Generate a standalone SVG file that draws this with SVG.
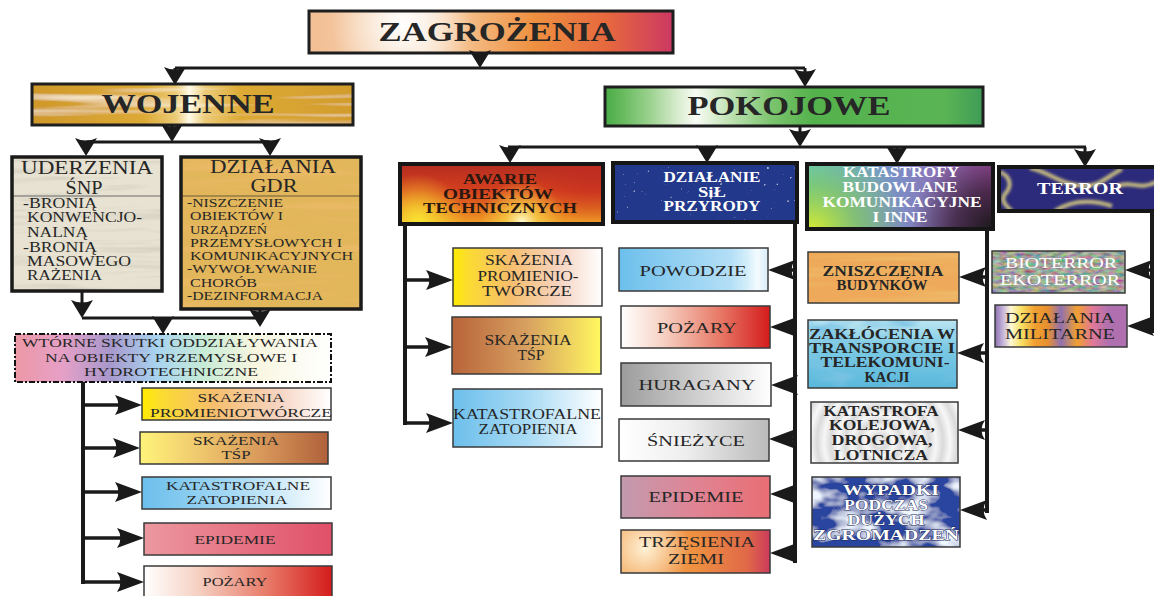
<svg xmlns="http://www.w3.org/2000/svg" width="1154" height="596" viewBox="0 0 1154 596">
<defs>
<style>
.t{font-family:"Liberation Serif","Times New Roman",serif;fill:#262626;text-anchor:middle}
.b{font-weight:bold}
.w{fill:#ffffff}
.ws{fill:#ffffff;stroke:#1c2a5a;stroke-width:0.8;paint-order:stroke}
.lst{font-family:"Liberation Serif","Times New Roman",serif;fill:#262626}
.s13{font-size:13px}.s14{font-size:14px}.s15{font-size:15px}.s17{font-size:17px}.s18{font-size:18px}.s27{font-size:27px}
.bd{fill:none;stroke:#3a3a3a;stroke-width:1.5}
.bk{fill:none;stroke:#161616;stroke-width:4}
.bm{fill:none;stroke:#1e1e1e;stroke-width:3}
.c{fill:none;stroke:#1a1a1a;stroke-width:3}
.cv{fill:none;stroke:#1a1a1a;stroke-width:4}
.cb{fill:none;stroke:#1a1a1a;stroke-width:3.5}
</style>
<marker id="av" markerUnits="userSpaceOnUse" markerWidth="18" markerHeight="22" refX="12" refY="11" orient="auto"><path d="M0,0 L18,11 L0,22 Q5,11 0,0 Z" fill="#1a1a1a"/></marker>
<marker id="ah" markerUnits="userSpaceOnUse" markerWidth="27" markerHeight="20" refX="21" refY="10" orient="auto"><path d="M0,0 L27,10 L0,20 Q7,10 0,0 Z" fill="#1a1a1a"/></marker>

<linearGradient id="gZag" x1="0" y1="0" x2="1" y2="0"><stop offset="0" stop-color="#f2bd92"/><stop offset="0.22" stop-color="#f6d4b2"/><stop offset="0.32" stop-color="#f8dcc0"/><stop offset="0.47" stop-color="#f3b478"/><stop offset="0.62" stop-color="#ee9040"/><stop offset="0.82" stop-color="#e6683e"/><stop offset="1" stop-color="#cc3862"/></linearGradient>
<radialGradient id="rZag" gradientUnits="userSpaceOnUse" cx="402" cy="24" r="70"><stop offset="0" stop-color="#fff" stop-opacity="1"/><stop offset="0.15" stop-color="#fff" stop-opacity="0.85"/><stop offset="1" stop-color="#fff" stop-opacity="0"/></radialGradient>
<linearGradient id="gWoj" x1="0" y1="0" x2="1" y2="0"><stop offset="0" stop-color="#cf982a"/><stop offset="0.35" stop-color="#ddaa36"/><stop offset="0.45" stop-color="#eccb78"/><stop offset="0.49" stop-color="#fffbe8"/><stop offset="0.54" stop-color="#eccb78"/><stop offset="0.65" stop-color="#ddaa36"/><stop offset="1" stop-color="#d29c2c"/></linearGradient>
<linearGradient id="gPok" x1="0" y1="0" x2="1" y2="0"><stop offset="0" stop-color="#48ac46"/><stop offset="0.05" stop-color="#6abb60"/><stop offset="0.12" stop-color="#9cd28f"/><stop offset="0.19" stop-color="#d6ebcd"/><stop offset="0.24" stop-color="#f8fcf4"/><stop offset="0.32" stop-color="#c6e5ba"/><stop offset="0.44" stop-color="#7cc46e"/><stop offset="0.55" stop-color="#54b24c"/><stop offset="0.9" stop-color="#5ab454"/><stop offset="1" stop-color="#3f9c56"/></linearGradient>
<linearGradient id="gWt" x1="0" y1="0" x2="1" y2="0"><stop offset="0" stop-color="#ec98a6"/><stop offset="0.15" stop-color="#e6a0c6"/><stop offset="0.3" stop-color="#a898cc"/><stop offset="0.45" stop-color="#a8d4f0"/><stop offset="0.6" stop-color="#c8ecd6"/><stop offset="0.76" stop-color="#f8f6e0"/><stop offset="1" stop-color="#ffffff"/></linearGradient>
<linearGradient id="gYel" x1="0" y1="0" x2="1" y2="0"><stop offset="0" stop-color="#ffec00"/><stop offset="0.1" stop-color="#fbdc30"/><stop offset="0.38" stop-color="#f6be6c"/><stop offset="0.72" stop-color="#f6d4c2"/><stop offset="1" stop-color="#ffffff"/></linearGradient>
<linearGradient id="gYelBr" x1="0" y1="0" x2="1" y2="0"><stop offset="0" stop-color="#fff47a"/><stop offset="0.3" stop-color="#f0ca6e"/><stop offset="0.65" stop-color="#d8985a"/><stop offset="1" stop-color="#b0603a"/></linearGradient>
<linearGradient id="gBrYel" x1="0" y1="0" x2="1" y2="0"><stop offset="0" stop-color="#b8643a"/><stop offset="0.5" stop-color="#d8a060"/><stop offset="1" stop-color="#fff860"/></linearGradient>
<linearGradient id="gBlue" x1="0" y1="0" x2="1" y2="0"><stop offset="0" stop-color="#6cbfec"/><stop offset="0.5" stop-color="#a8daf4"/><stop offset="1" stop-color="#ffffff"/></linearGradient>
<linearGradient id="gPow" x1="0" y1="0" x2="1" y2="0"><stop offset="0" stop-color="#6cbfec"/><stop offset="0.75" stop-color="#b4dff6"/><stop offset="0.86" stop-color="#d4eefa"/><stop offset="0.93" stop-color="#f4fbff"/><stop offset="1" stop-color="#d8ecf8"/></linearGradient>
<linearGradient id="gEpiL" x1="0" y1="0" x2="1" y2="0"><stop offset="0" stop-color="#ec98a0"/><stop offset="1" stop-color="#e05068"/></linearGradient>
<linearGradient id="gPoz" x1="0" y1="0" x2="1" y2="0"><stop offset="0" stop-color="#ffffff"/><stop offset="0.28" stop-color="#f6d2c4"/><stop offset="0.65" stop-color="#e87c6a"/><stop offset="1" stop-color="#d41c1c"/></linearGradient>
<linearGradient id="gHur" x1="0" y1="0" x2="1" y2="0"><stop offset="0" stop-color="#9c9c9c"/><stop offset="0.5" stop-color="#cecece"/><stop offset="1" stop-color="#ffffff"/></linearGradient>
<linearGradient id="gSni" x1="0" y1="0" x2="1" y2="0"><stop offset="0" stop-color="#ffffff"/><stop offset="0.45" stop-color="#eeeeee"/><stop offset="1" stop-color="#bababa"/></linearGradient>
<linearGradient id="gEpi" x1="0" y1="0" x2="1" y2="0"><stop offset="0" stop-color="#c29aae"/><stop offset="0.5" stop-color="#e08494"/><stop offset="1" stop-color="#e86e74"/></linearGradient>
<linearGradient id="gTrz" x1="0" y1="0" x2="1" y2="0"><stop offset="0" stop-color="#f2a456"/><stop offset="0.5" stop-color="#ee9040"/><stop offset="0.85" stop-color="#e06848"/><stop offset="1" stop-color="#cc3a5c"/></linearGradient>
<radialGradient id="rTrz" gradientUnits="userSpaceOnUse" cx="645" cy="548" r="45"><stop offset="0" stop-color="#fff2d6" stop-opacity="1"/><stop offset="1" stop-color="#fff2d6" stop-opacity="0"/></radialGradient>
<linearGradient id="gFire" x1="0" y1="0" x2="0" y2="1"><stop offset="0" stop-color="#b42c20"/><stop offset="0.45" stop-color="#d6401e"/><stop offset="0.8" stop-color="#e67a20"/><stop offset="1" stop-color="#f0a028"/></linearGradient>
<radialGradient id="rFire1" gradientUnits="userSpaceOnUse" cx="418" cy="222" r="48"><stop offset="0" stop-color="#fae432" stop-opacity="1"/><stop offset="1" stop-color="#fae432" stop-opacity="0"/></radialGradient>
<radialGradient id="rFire2" gradientUnits="userSpaceOnUse" cx="522" cy="222" r="42"><stop offset="0" stop-color="#fffbd0" stop-opacity="1"/><stop offset="0.4" stop-color="#f8d448" stop-opacity="0.7"/><stop offset="1" stop-color="#f8d448" stop-opacity="0"/></radialGradient>
<radialGradient id="rFire3" gradientUnits="userSpaceOnUse" cx="592" cy="168" r="55"><stop offset="0" stop-color="#c02c22" stop-opacity="0.85"/><stop offset="1" stop-color="#c02c22" stop-opacity="0"/></radialGradient>
<linearGradient id="gKat" x1="0" y1="0" x2="1" y2="0"><stop offset="0" stop-color="#58c6d8"/><stop offset="0.5" stop-color="#7c8cc4"/><stop offset="1" stop-color="#a24ca2"/></linearGradient>
<radialGradient id="rKat1" gradientUnits="userSpaceOnUse" cx="812" cy="232" r="95"><stop offset="0" stop-color="#dcec30" stop-opacity="1"/><stop offset="0.5" stop-color="#90cc40" stop-opacity="0.6"/><stop offset="1" stop-color="#90cc40" stop-opacity="0"/></radialGradient>
<radialGradient id="rKat2" gradientUnits="userSpaceOnUse" cx="995" cy="232" r="85"><stop offset="0" stop-color="#161616" stop-opacity="1"/><stop offset="0.5" stop-color="#2a1a2a" stop-opacity="0.7"/><stop offset="1" stop-color="#2a1a2a" stop-opacity="0"/></radialGradient>
<linearGradient id="gWater" x1="0" y1="0" x2="0" y2="1"><stop offset="0" stop-color="#bce6f2"/><stop offset="0.4" stop-color="#7ccae4"/><stop offset="1" stop-color="#5ab8dc"/></linearGradient>
<radialGradient id="gRipple" gradientUnits="userSpaceOnUse" cx="880" cy="442" r="14" spreadMethod="reflect"><stop offset="0" stop-color="#f6f6f6"/><stop offset="0.5" stop-color="#dadada"/><stop offset="1" stop-color="#f8f8f8"/></radialGradient>
<linearGradient id="gMil" x1="0" y1="0" x2="1" y2="0"><stop offset="0" stop-color="#8e70b0"/><stop offset="0.06" stop-color="#c4b4da"/><stop offset="0.12" stop-color="#fff8d4"/><stop offset="0.2" stop-color="#f8e064"/><stop offset="0.3" stop-color="#f0a030"/><stop offset="0.4" stop-color="#e89030"/><stop offset="0.5" stop-color="#9070b0"/><stop offset="0.62" stop-color="#f0a030"/><stop offset="0.74" stop-color="#e07898"/><stop offset="0.86" stop-color="#b070b0"/><stop offset="1" stop-color="#b070b0"/></linearGradient>

<filter id="fGrainOr" x="0" y="0" width="1" height="1">
<feTurbulence type="fractalNoise" baseFrequency="0.006 0.09" numOctaves="3" seed="2" result="n"/>
<feColorMatrix in="n" type="matrix" values="0 0 0 0 0.85  0 0 0 0 0.5  0 0 0 0 0.15  2.6 0 0 0 -1.3" result="c"/>
<feComposite in="c" in2="SourceGraphic" operator="in" result="ci"/>
<feMerge><feMergeNode in="SourceGraphic"/><feMergeNode in="ci"/></feMerge>
</filter>
<filter id="fGrainLt" x="0" y="0" width="1" height="1">
<feTurbulence type="fractalNoise" baseFrequency="0.005 0.12" numOctaves="2" seed="5" result="n"/>
<feColorMatrix in="n" type="matrix" values="0 0 0 0 1  0 0 0 0 0.95  0 0 0 0 0.8  2.2 0 0 0 -1.15" result="c"/>
<feComposite in="c" in2="SourceGraphic" operator="in" result="ci"/>
<feMerge><feMergeNode in="SourceGraphic"/><feMergeNode in="ci"/></feMerge>
</filter>
<filter id="fGrainGr" x="0" y="0" width="1" height="1">
<feTurbulence type="fractalNoise" baseFrequency="0.01 0.15" numOctaves="3" seed="9" result="n"/>
<feColorMatrix in="n" type="matrix" values="0 0 0 0 0.6  0 0 0 0 0.58  0 0 0 0 0.5  2 0 0 0 -1.0" result="c"/>
<feComposite in="c" in2="SourceGraphic" operator="in" result="ci"/>
<feMerge><feMergeNode in="SourceGraphic"/><feMergeNode in="ci"/></feMerge>
</filter>
<filter id="fSpark" x="0" y="0" width="1" height="1">
<feTurbulence type="fractalNoise" baseFrequency="0.3" numOctaves="1" seed="7" result="n"/>
<feColorMatrix in="n" type="matrix" values="0 0 0 0 0.8  0 0 0 0 0.88  0 0 0 0 1  7 0 0 0 -5.0" result="s"/>
<feGaussianBlur in="s" stdDeviation="0.5" result="sb"/>
<feComposite in="sb" in2="SourceGraphic" operator="in" result="si"/>
<feMerge><feMergeNode in="SourceGraphic"/><feMergeNode in="si"/></feMerge>
</filter>
<filter id="fNoise" x="0" y="0" width="1" height="1">
<feTurbulence type="fractalNoise" baseFrequency="0.12 0.3" numOctaves="2" seed="11" result="n"/>
<feColorMatrix in="n" type="matrix" values="0.9 0 0 0 -0.1  0 0.8 0 0 -0.03  0 0 0.6 0 0.02  0 0 0 0 1" result="c"/>
<feComposite in="c" in2="SourceGraphic" operator="in"/>
</filter>
<filter id="fCloud" x="0" y="0" width="1" height="1">
<feTurbulence type="fractalNoise" baseFrequency="0.03 0.05" numOctaves="3" seed="4" result="n"/>
<feColorMatrix in="n" type="matrix" values="0 0 0 0 0.86  0 0 0 0 0.92  0 0 0 0 1  3.6 0 0 0 -1.6" result="c"/>
<feComposite in="c" in2="SourceGraphic" operator="in" result="ci"/>
<feMerge><feMergeNode in="SourceGraphic"/><feMergeNode in="ci"/></feMerge>
</filter>
<filter id="fWater" x="0" y="0" width="1" height="1">
<feTurbulence type="fractalNoise" baseFrequency="0.02 0.06" numOctaves="3" seed="14" result="n"/>
<feColorMatrix in="n" type="matrix" values="0 0 0 0 0.2  0 0 0 0 0.55  0 0 0 0 0.78  3 0 0 0 -1.5" result="c"/>
<feComposite in="c" in2="SourceGraphic" operator="in" result="ci"/>
<feMerge><feMergeNode in="SourceGraphic"/><feMergeNode in="ci"/></feMerge>
</filter>
<filter id="fBlur" x="-10%" y="-30%" width="120%" height="160%"><feGaussianBlur stdDeviation="1.6"/></filter>
<clipPath id="cTerror"><rect x="999" y="167" width="157" height="44"/></clipPath>
</defs>

<rect width="1154" height="596" fill="#ffffff"/>

<g id="n-zagrozenia">
<rect x="309" y="11" width="364" height="42" fill="url(#gZag)"/>
<rect x="309" y="11" width="364" height="42" fill="url(#rZag)"/>
<rect x="309" y="11" width="364" height="42" class="bm"/>
<text class="t b s27" x="497" y="41" textLength="237" lengthAdjust="spacingAndGlyphs">ZAGROŻENIA</text>
</g>

<g id="n-wojenne">
<rect x="32" y="84" width="321" height="41" fill="url(#gWoj)" filter="url(#fGrainLt)"/>
<rect x="32" y="84" width="321" height="41" class="bm"/>
<text class="t b s27" x="188" y="113" textLength="173" lengthAdjust="spacingAndGlyphs">WOJENNE</text>
</g>

<g id="n-pokojowe">
<rect x="605" y="87" width="378" height="39" fill="url(#gPok)"/>
<rect x="605" y="87" width="378" height="39" class="bm"/>
<text class="t b s27" x="789" y="115" textLength="203" lengthAdjust="spacingAndGlyphs">POKOJOWE</text>
</g>

<g id="n-uderzenia">
<rect x="12" y="157" width="150" height="134" fill="#e7e2d1" filter="url(#fGrainGr)"/>
<line x1="12" y1="196" x2="162" y2="196" stroke="#6a6a6a" stroke-width="1"/>
<rect x="12" y="157" width="150" height="134" fill="none" stroke="#1a1a1a" stroke-width="3.5"/>
<text class="t s18" x="87" y="174" textLength="132" lengthAdjust="spacingAndGlyphs">UDERZENIA</text>
<text class="t s18" x="84" y="194" textLength="37" lengthAdjust="spacingAndGlyphs">ŚNP</text>
<g class="lst s14">
<text x="23" y="208" textLength="74" lengthAdjust="spacingAndGlyphs">-BRONIĄ</text>
<text x="27" y="222" textLength="115" lengthAdjust="spacingAndGlyphs">KONWENCJO-</text>
<text x="27" y="237" textLength="61" lengthAdjust="spacingAndGlyphs">NALNĄ</text>
<text x="23" y="252" textLength="74" lengthAdjust="spacingAndGlyphs">-BRONIĄ</text>
<text x="27" y="266" textLength="104" lengthAdjust="spacingAndGlyphs">MASOWEGO</text>
<text x="27" y="280" textLength="75" lengthAdjust="spacingAndGlyphs">RAŻENIA</text>
</g>
</g>

<g id="n-gdr">
<rect x="181" y="157" width="180" height="152" fill="#e2b65a" filter="url(#fGrainOr)"/>
<line x1="181" y1="196" x2="361" y2="196" stroke="#6a5a3a" stroke-width="1"/>
<rect x="181" y="157" width="180" height="152" fill="none" stroke="#1a1a1a" stroke-width="3.5"/>
<text class="t s18" x="273" y="173" textLength="126" lengthAdjust="spacingAndGlyphs">DZIAŁANIA</text>
<text class="t s18" x="274" y="192" textLength="47" lengthAdjust="spacingAndGlyphs">GDR</text>
<g class="lst s13">
<text x="187" y="207" textLength="96" lengthAdjust="spacingAndGlyphs">-NISZCZENIE</text>
<text x="190" y="220" textLength="93" lengthAdjust="spacingAndGlyphs">OBIEKTÓW I</text>
<text x="190" y="234" textLength="77" lengthAdjust="spacingAndGlyphs">URZĄDZEŃ</text>
<text x="190" y="247" textLength="152" lengthAdjust="spacingAndGlyphs">PRZEMYSŁOWYCH I</text>
<text x="190" y="260" textLength="163" lengthAdjust="spacingAndGlyphs">KOMUNIKACYJNYCH</text>
<text x="187" y="273" textLength="130" lengthAdjust="spacingAndGlyphs">-WYWOŁYWANIE</text>
<text x="190" y="287" textLength="67" lengthAdjust="spacingAndGlyphs">CHORÓB</text>
<text x="187" y="300" textLength="136" lengthAdjust="spacingAndGlyphs">-DEZINFORMACJA</text>
</g>
</g>

<g id="n-wtorne">
<rect x="15" y="334" width="316" height="48" fill="url(#gWt)" stroke="#111" stroke-width="2" stroke-dasharray="6 2 2 2"/>
<text class="t s13" x="170" y="347" textLength="296" lengthAdjust="spacingAndGlyphs">WTÓRNE SKUTKI ODDZIAŁYWANIA</text>
<text class="t s13" x="171" y="362" textLength="252" lengthAdjust="spacingAndGlyphs">NA OBIEKTY PRZEMYSŁOWE I</text>
<text class="t s13" x="171" y="376" textLength="174" lengthAdjust="spacingAndGlyphs">HYDROTECHNICZNE</text>
</g>

<g id="n-l-promien">
<rect x="142" y="388" width="189" height="32" class="bd" style="fill:url(#gYel)"/>
<text class="t s13" x="241" y="402" textLength="87" lengthAdjust="spacingAndGlyphs">SKAŻENIA</text>
<text class="t s13" x="241" y="417" textLength="182" lengthAdjust="spacingAndGlyphs">PROMIENIOTWÓRCZE</text>
</g>
<g id="n-l-tsp">
<rect x="140" y="432" width="188" height="32" class="bd" style="fill:url(#gYelBr)"/>
<text class="t s13" x="236" y="445" textLength="86" lengthAdjust="spacingAndGlyphs">SKAŻENIA</text>
<text class="t s13" x="236" y="459" textLength="29" lengthAdjust="spacingAndGlyphs">TŚP</text>
</g>
<g id="n-l-zatop">
<rect x="142" y="477" width="189" height="32" class="bd" style="fill:url(#gBlue)"/>
<text class="t s13" x="238" y="490" textLength="144" lengthAdjust="spacingAndGlyphs">KATASTROFALNE</text>
<text class="t s13" x="237" y="504" textLength="101" lengthAdjust="spacingAndGlyphs">ZATOPIENIA</text>
</g>
<g id="n-l-epidemie">
<rect x="144" y="523" width="188" height="32" class="bd" style="fill:url(#gEpiL)"/>
<text class="t s13" x="235" y="544" textLength="81" lengthAdjust="spacingAndGlyphs">EPIDEMIE</text>
</g>
<g id="n-l-pozary">
<rect x="144" y="566" width="188" height="34" class="bd" style="fill:url(#gPoz)"/>
<text class="t s13" x="235" y="586" textLength="65" lengthAdjust="spacingAndGlyphs">POŻARY</text>
</g>

<g id="n-awarie">
<rect x="400" y="164" width="203" height="60" fill="url(#gFire)"/>
<rect x="400" y="164" width="203" height="60" fill="url(#rFire3)"/>
<rect x="400" y="164" width="203" height="60" fill="url(#rFire1)"/>
<rect x="400" y="164" width="203" height="60" fill="url(#rFire2)"/>
<rect x="400" y="164" width="203" height="60" class="bk"/>
<text class="t b s14" x="500" y="184" textLength="74" lengthAdjust="spacingAndGlyphs" style="fill:#2a1810">AWARIE</text>
<text class="t b s14" x="498" y="199" textLength="110" lengthAdjust="spacingAndGlyphs" style="fill:#2a1810">OBIEKTÓW</text>
<text class="t b s14" x="500" y="213" textLength="154" lengthAdjust="spacingAndGlyphs" style="fill:#2a1810">TECHNICZNYCH</text>
</g>
<g id="n-a-promien">
<rect x="453" y="248" width="149" height="58" class="bd" style="fill:url(#gYel)"/>
<text class="t s14" x="529" y="265" textLength="88" lengthAdjust="spacingAndGlyphs">SKAŻENIA</text>
<text class="t s14" x="528" y="281" textLength="101" lengthAdjust="spacingAndGlyphs">PROMIENIO-</text>
<text class="t s14" x="527" y="296" textLength="90" lengthAdjust="spacingAndGlyphs">TWÓRCZE</text>
</g>
<g id="n-a-tsp">
<rect x="452" y="317" width="149" height="57" class="bd" style="fill:url(#gBrYel)"/>
<text class="t s14" x="528" y="345" textLength="87" lengthAdjust="spacingAndGlyphs">SKAŻENIA</text>
<text class="t s14" x="531" y="360" textLength="27" lengthAdjust="spacingAndGlyphs">TŚP</text>
</g>
<g id="n-a-zatop">
<rect x="453" y="389" width="149" height="58" class="bd" style="fill:url(#gBlue)"/>
<text class="t s14" x="527" y="419" textLength="148" lengthAdjust="spacingAndGlyphs">KATASTROFALNE</text>
<text class="t s14" x="528" y="434" textLength="99" lengthAdjust="spacingAndGlyphs">ZATOPIENIA</text>
</g>

<g id="n-przyroda">
<rect x="613" y="163" width="184" height="59" fill="#22398a" filter="url(#fSpark)"/>
<rect x="613" y="163" width="184" height="59" class="bk"/>
<text class="t b s14 w" x="712" y="182" textLength="97" lengthAdjust="spacingAndGlyphs">DZIAŁANIE</text>
<text class="t b s14 w" x="712" y="197" textLength="28" lengthAdjust="spacingAndGlyphs">SiŁ</text>
<text class="t b s14 w" x="712" y="211" textLength="97" lengthAdjust="spacingAndGlyphs">PRZYRODY</text>
</g>
<g id="n-powodzie">
<rect x="619" y="248" width="149" height="43" class="bd" style="fill:url(#gPow)"/>
<text class="t s15" x="693" y="276" textLength="107" lengthAdjust="spacingAndGlyphs">POWODZIE</text>
</g>
<g id="n-pozary">
<rect x="621" y="306" width="149" height="42" class="bd" style="fill:url(#gPoz)"/>
<text class="t s15" x="697" y="333" textLength="80" lengthAdjust="spacingAndGlyphs">POŻARY</text>
</g>
<g id="n-huragany">
<rect x="621" y="363" width="150" height="43" class="bd" style="fill:url(#gHur)"/>
<text class="t s15" x="697" y="390" textLength="117" lengthAdjust="spacingAndGlyphs">HURAGANY</text>
</g>
<g id="n-sniezyce">
<rect x="619" y="419" width="150" height="42" class="bd" style="fill:url(#gSni)"/>
<text class="t s15" x="696" y="446" textLength="98" lengthAdjust="spacingAndGlyphs">ŚNIEŻYCE</text>
</g>
<g id="n-epidemie">
<rect x="621" y="476" width="149" height="42" class="bd" style="fill:url(#gEpi)"/>
<text class="t s15" x="696" y="502" textLength="95" lengthAdjust="spacingAndGlyphs">EPIDEMIE</text>
</g>
<g id="n-trzesienia">
<rect x="621" y="530" width="149" height="43" fill="url(#gTrz)"/>
<rect x="621" y="530" width="149" height="43" fill="url(#rTrz)"/>
<rect x="621" y="530" width="149" height="43" class="bd"/>
<text class="t s15" x="697" y="547" textLength="116" lengthAdjust="spacingAndGlyphs">TRZĘSIENIA</text>
<text class="t s15" x="696" y="564" textLength="56" lengthAdjust="spacingAndGlyphs">ZIEMI</text>
</g>

<g id="n-katastrofy">
<rect x="807" y="164" width="186" height="65" fill="url(#gKat)"/>
<rect x="807" y="164" width="186" height="65" fill="url(#rKat1)"/>
<rect x="807" y="164" width="186" height="65" fill="url(#rKat2)"/>
<rect x="807" y="164" width="186" height="65" class="bk"/>
<text class="t b s14 w" x="901" y="177" textLength="116" lengthAdjust="spacingAndGlyphs">KATASTROFY</text>
<text class="t b s14 w" x="900" y="192" textLength="115" lengthAdjust="spacingAndGlyphs">BUDOWLANE</text>
<text class="t b s14 w" x="902" y="207" textLength="159" lengthAdjust="spacingAndGlyphs">KOMUNIKACYJNE</text>
<text class="t b s14 w" x="900" y="222" textLength="55" lengthAdjust="spacingAndGlyphs">I INNE</text>
</g>
<g id="n-zniszczenia">
<rect x="808" y="252" width="151" height="51" fill="#eeaa5a" filter="url(#fGrainOr)"/>
<rect x="808" y="252" width="151" height="51" class="bd"/>
<text class="t b s14" x="883" y="276" textLength="121" lengthAdjust="spacingAndGlyphs">ZNISZCZENIA</text>
<text class="t b s14" x="882" y="290" textLength="91" lengthAdjust="spacingAndGlyphs">BUDYNKÓW</text>
</g>
<g id="n-zaklocenia">
<rect x="808" y="320" width="149" height="68" fill="url(#gWater)" filter="url(#fWater)"/>
<rect x="808" y="320" width="149" height="68" class="bd"/>
<text class="t b s14" x="882" y="339" textLength="146" lengthAdjust="spacingAndGlyphs">ZAKŁÓCENIA W</text>
<text class="t b s14" x="882" y="353" textLength="146" lengthAdjust="spacingAndGlyphs">TRANSPORCIE I</text>
<text class="t b s14" x="885" y="367" textLength="129" lengthAdjust="spacingAndGlyphs">TELEKOMUNI-</text>
<text class="t b s14" x="887" y="382" textLength="45" lengthAdjust="spacingAndGlyphs">KACJI</text>
</g>
<g id="n-katastrofa">
<rect x="811" y="402" width="147" height="61" class="bd" style="fill:url(#gRipple)"/>
<text class="t b s14" x="881" y="416" textLength="115" lengthAdjust="spacingAndGlyphs">KATASTROFA</text>
<text class="t b s14" x="882" y="430" textLength="106" lengthAdjust="spacingAndGlyphs">KOLEJOWA,</text>
<text class="t b s14" x="882" y="445" textLength="101" lengthAdjust="spacingAndGlyphs">DROGOWA,</text>
<text class="t b s14" x="881" y="460" textLength="94" lengthAdjust="spacingAndGlyphs">LOTNICZA</text>
</g>
<g id="n-wypadki">
<rect x="812" y="477" width="148" height="70" fill="#2a44a0" filter="url(#fCloud)"/>
<rect x="812" y="477" width="148" height="70" class="bd"/>
<text class="t b s14 ws" x="891" y="495" textLength="96" lengthAdjust="spacingAndGlyphs">WYPADKI</text>
<text class="t b s14 ws" x="886" y="510" textLength="84" lengthAdjust="spacingAndGlyphs">PODCZAS</text>
<text class="t b s14 ws" x="886" y="525" textLength="77" lengthAdjust="spacingAndGlyphs">DUŻYCH</text>
<text class="t b s14 ws" x="886" y="540" textLength="146" lengthAdjust="spacingAndGlyphs">ZGROMADZEŃ</text>
</g>

<g id="n-terror">
<rect x="999" y="167" width="157" height="44" fill="#2c2a7a"/>
<g clip-path="url(#cTerror)"><g filter="url(#fBlur)" fill="none" stroke="#e6da80" stroke-width="4" opacity="0.85">
<path d="M1000,172 C1010,176 1013,186 1005,194 C1000,200 1006,206 1012,211"/>
<path d="M1030,168 C1050,172 1060,185 1085,186 C1100,186 1108,176 1122,169"/>
<path d="M1055,211 C1070,201 1090,199 1112,206"/>
<path d="M1118,186 C1130,180 1140,191 1156,182"/>
</g></g>
<rect x="999" y="167" width="157" height="44" class="bk"/>
<text class="t b s17 w" x="1080" y="194" textLength="86" lengthAdjust="spacingAndGlyphs">TERROR</text>
</g>
<g id="n-bioterror">
<rect x="992" y="251" width="133" height="42" fill="#555" filter="url(#fNoise)"/>
<rect x="992" y="251" width="133" height="42" class="bd"/>
<text class="t s15 w" x="1061" y="268" textLength="112" lengthAdjust="spacingAndGlyphs">BIOTERROR</text>
<text class="t s15 w" x="1060" y="285" textLength="120" lengthAdjust="spacingAndGlyphs">EKOTERROR</text>
</g>
<g id="n-militarne">
<rect x="995" y="305" width="132" height="42" class="bd" style="fill:url(#gMil)"/>
<text class="t s15" x="1060" y="323" textLength="110" lengthAdjust="spacingAndGlyphs">DZIAŁANIA</text>
<text class="t s15" x="1060" y="339" textLength="110" lengthAdjust="spacingAndGlyphs">MILITARNE</text>
</g>

<g id="connectors">
<path class="c" d="M480,53 V62" marker-end="url(#av)"/>
<path class="c" d="M175,68 H805"/>
<path class="c" d="M175,68 V79" marker-end="url(#av)"/>
<path class="c" d="M805,68 V81" marker-end="url(#av)"/>
<path class="c" d="M800,126 V141" marker-end="url(#av)"/>
<path class="c" d="M508,147 H1086"/>
<path class="c" d="M510,147 V157" marker-end="url(#av)"/>
<path class="c" d="M707,147 V157" marker-end="url(#av)"/>
<path class="c" d="M897,147 V158" marker-end="url(#av)"/>
<path class="c" d="M1085,147 V161" marker-end="url(#av)"/>
<path class="c" d="M172,125 V136" marker-end="url(#av)"/>
<path class="c" d="M86,142 H270"/>
<path class="c" d="M86,142 V150" marker-end="url(#av)"/>
<path class="c" d="M270,142 V150" marker-end="url(#av)"/>
<path class="c" d="M82,291 V312" marker-end="url(#av)"/>
<path class="c" d="M82,318 H260"/>
<path class="c" d="M260,309 V321" marker-end="url(#av)"/>
<path class="c" d="M163,318 V328" marker-end="url(#av)"/>

<path class="cv" d="M83,382 V584"/>
<path class="cv" d="M405,224 V425"/>
<path class="cv" d="M795,222 V563"/>
<path class="cv" d="M987,229 V513"/>
<path class="cv" d="M1152,211 V333"/>

<path class="cb" d="M83,405 H136" marker-end="url(#ah)"/>
<path class="cb" d="M83,448 H134" marker-end="url(#ah)"/>
<path class="cb" d="M83,492 H136" marker-end="url(#ah)"/>
<path class="cb" d="M83,538 H138" marker-end="url(#ah)"/>
<path class="cb" d="M83,582 H138" marker-end="url(#ah)"/>

<path class="cb" d="M405,280 H447" marker-end="url(#ah)"/>
<path class="cb" d="M405,347 H446" marker-end="url(#ah)"/>
<path class="cb" d="M405,423 H447" marker-end="url(#ah)"/>

<path class="cb" d="M795,270 H774" marker-end="url(#ah)"/>
<path class="cb" d="M795,327 H776" marker-end="url(#ah)"/>
<path class="cb" d="M795,385 H777" marker-end="url(#ah)"/>
<path class="cb" d="M795,439 H775" marker-end="url(#ah)"/>
<path class="cb" d="M795,494 H776" marker-end="url(#ah)"/>
<path class="cb" d="M795,553 H776" marker-end="url(#ah)"/>

<path class="cb" d="M987,277 H965" marker-end="url(#ah)"/>
<path class="cb" d="M987,353 H963" marker-end="url(#ah)"/>
<path class="cb" d="M987,430 H964" marker-end="url(#ah)"/>
<path class="cb" d="M987,510 H966" marker-end="url(#ah)"/>

<path class="cb" d="M1152,270 H1131" marker-end="url(#ah)"/>
<path class="cb" d="M1152,326 H1133" marker-end="url(#ah)"/>
</g>
</svg>
